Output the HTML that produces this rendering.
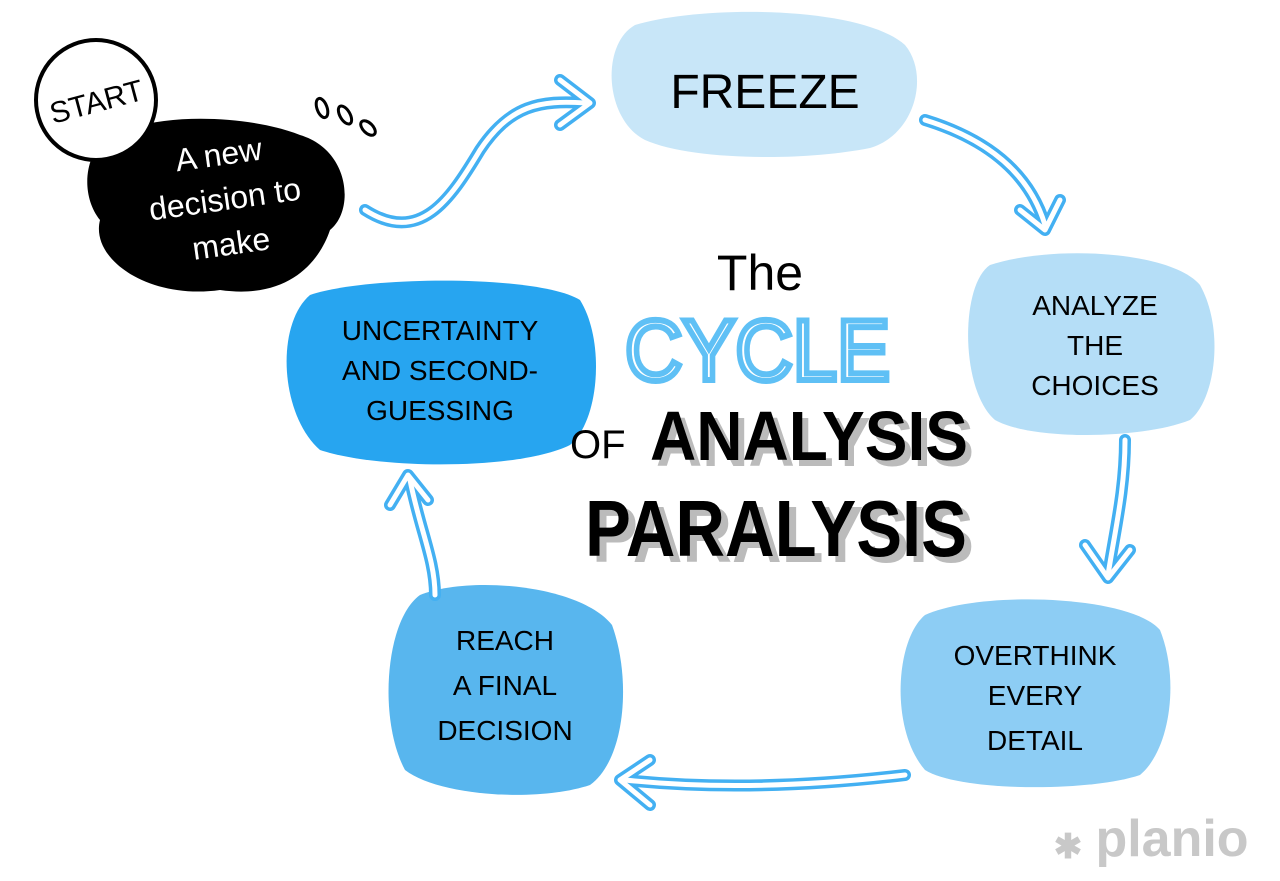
<!DOCTYPE html>
<html><head><meta charset="utf-8"><style>
body{margin:0;background:#fff;}
svg{display:block;}
text{font-family:"Liberation Sans",sans-serif;}
</style></head><body>
<svg width="1280" height="881" viewBox="0 0 1280 881">
<path d="M635,25 C700,5 860,5 905,45 C930,75 915,135 870,148 C800,162 690,160 645,140 C605,120 600,45 635,25Z" fill="#c8e6f8"/>
<path d="M990,265 C1050,245 1170,250 1200,285 C1225,330 1215,400 1190,420 C1140,440 1030,440 995,420 C960,390 960,285 990,265Z" fill="#b5def7"/>
<path d="M925,615 C980,590 1130,595 1160,630 C1180,680 1170,750 1140,775 C1090,792 960,792 925,770 C890,730 895,640 925,615Z" fill="#8dcdf4"/>
<path d="M420,595 C470,575 580,585 612,625 C632,680 625,760 590,785 C540,802 440,797 405,770 C378,720 385,620 420,595Z" fill="#58b6ee"/>
<path d="M310,295 C370,275 540,275 580,300 C605,340 600,420 570,445 C520,470 380,470 320,450 C280,415 275,325 310,295Z" fill="#27a5f0"/>
<path d="M105,140 C150,110 250,115 300,135 C350,150 355,210 330,230 C320,260 290,300 220,290 C150,300 90,260 100,220 C80,195 85,155 105,140Z" fill="#000"/>
<circle cx="96" cy="100" r="60" fill="#fff" stroke="#000" stroke-width="4"/>
<text x="96" y="112" font-size="30" text-anchor="middle" transform="rotate(-15 96 100)">START</text>
<text x="225" y="165" font-size="32" fill="#fff" text-anchor="middle" transform="rotate(-8 225 200)">A new</text>
<text x="225" y="210" font-size="32" fill="#fff" text-anchor="middle" transform="rotate(-8 225 200)">decision to</text>
<text x="225" y="255" font-size="32" fill="#fff" text-anchor="middle" transform="rotate(-8 225 200)">make</text>
<g fill="none" stroke="#000" stroke-width="3">
<ellipse cx="322" cy="108" rx="5" ry="10" transform="rotate(-20 322 108)"/>
<ellipse cx="345" cy="115" rx="5" ry="10" transform="rotate(-30 345 115)"/>
<ellipse cx="368" cy="128" rx="5" ry="9" transform="rotate(-45 368 128)"/>
</g>
<text x="765" y="108" font-size="48" text-anchor="middle">FREEZE</text>
<g font-size="28" text-anchor="middle">
<text x="1095" y="315">ANALYZE</text><text x="1095" y="355">THE</text><text x="1095" y="395">CHOICES</text>
<text x="1035" y="665">OVERTHINK</text><text x="1035" y="705">EVERY</text><text x="1035" y="750">DETAIL</text>
<text x="505" y="650">REACH</text><text x="505" y="695">A FINAL</text><text x="505" y="740">DECISION</text>
<text x="440" y="340">UNCERTAINTY</text><text x="440" y="380">AND SECOND-</text><text x="440" y="420">GUESSING</text>
</g>
<text x="760" y="290" font-size="50" text-anchor="middle">The</text>
<text x="625" y="380" font-size="86" textLength="265" lengthAdjust="spacingAndGlyphs" fill="#fff" stroke="#5fc0f5" stroke-width="6">CYCLE</text>
<text x="570" y="458" font-size="40">OF</text>
<text x="656" y="466" font-size="70" font-weight="bold" fill="#bbb" textLength="318" lengthAdjust="spacingAndGlyphs">ANALYSIS</text>
<text x="650" y="460" font-size="70" font-weight="bold" textLength="318" lengthAdjust="spacingAndGlyphs">ANALYSIS</text>
<text x="592" y="562" font-size="80" font-weight="bold" fill="#bbb" textLength="382" lengthAdjust="spacingAndGlyphs">PARALYSIS</text>
<text x="585" y="556" font-size="80" font-weight="bold" textLength="382" lengthAdjust="spacingAndGlyphs">PARALYSIS</text>
<g fill="none" stroke-linecap="round" stroke-linejoin="round">
<g stroke="#43b0f2" stroke-width="12">
<path d="M365,210 C420,245 450,200 480,150 C510,105 540,100 585,103"/>
<path d="M560,80 L590,103 L560,125"/>
<path d="M925,120 C990,140 1030,175 1045,225"/>
<path d="M1020,210 L1045,230 L1060,200"/>
<path d="M1125,440 C1125,490 1115,530 1108,575"/>
<path d="M1085,545 L1108,578 L1130,550"/>
<path d="M905,775 C820,785 720,790 625,780"/>
<path d="M650,760 L620,780 L650,805"/>
<path d="M435,595 C435,560 420,530 410,480"/>
<path d="M390,505 L408,475 L428,500"/>
</g>
<g stroke="#fff" stroke-width="5">
<path d="M365,210 C420,245 450,200 480,150 C510,105 540,100 585,103"/>
<path d="M560,80 L590,103 L560,125"/>
<path d="M925,120 C990,140 1030,175 1045,225"/>
<path d="M1020,210 L1045,230 L1060,200"/>
<path d="M1125,440 C1125,490 1115,530 1108,575"/>
<path d="M1085,545 L1108,578 L1130,550"/>
<path d="M905,775 C820,785 720,790 625,780"/>
<path d="M650,760 L620,780 L650,805"/>
<path d="M435,595 C435,560 420,530 410,480"/>
<path d="M390,505 L408,475 L428,500"/>
</g>
</g>
<text x="1068" y="858" font-size="34" fill="#c8c8c8" text-anchor="middle" font-weight="bold">✱</text>
<text x="1172" y="856" font-size="52" font-weight="bold" fill="#c8c8c8" text-anchor="middle">planio</text>
</svg>
</body></html>
